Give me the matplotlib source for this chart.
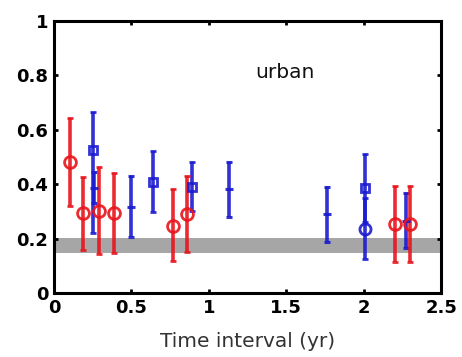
import matplotlib
matplotlib.use("Agg")
import matplotlib.pyplot as plt

# Red circles
red_x = [0.10, 0.19, 0.29, 0.39, 0.77, 0.86, 2.20, 2.30]
red_y = [0.483, 0.293, 0.300, 0.293, 0.247, 0.289, 0.254, 0.254]
red_lo = [0.32, 0.16, 0.142, 0.146, 0.118, 0.15, 0.115, 0.115]
red_hi = [0.642, 0.425, 0.462, 0.44, 0.382, 0.431, 0.393, 0.393]

# Blue squares
bsq_x = [0.25, 0.64, 0.89, 2.01]
bsq_y = [0.526, 0.409, 0.391, 0.385]
bsq_lo = [0.22, 0.299, 0.30, 0.26]
bsq_hi = [0.667, 0.522, 0.481, 0.512]

# Blue plus
bpl_x = [0.26, 0.50, 1.13, 1.76, 2.27]
bpl_y = [0.385, 0.317, 0.383, 0.289, 0.265]
bpl_lo = [0.332, 0.205, 0.28, 0.189, 0.164]
bpl_hi = [0.444, 0.43, 0.483, 0.391, 0.367]

# Blue circle
bci_x = [2.01]
bci_y = [0.237]
bci_lo = [0.127]
bci_hi = [0.35]

band_lo, band_hi = 0.146, 0.202

xticks = [0, 0.5, 1, 1.5, 2, 2.5]
xticklabels = ["0", "0.5", "1", "1.5", "2", "2.5"]
yticks = [0, 0.2, 0.4, 0.6, 0.8, 1]
yticklabels = ["0", "0.2", "0.4", "0.6", "0.8", "1"]

RED = "#e8141c"
BLUE = "#1a1ad0"

fig = plt.figure(figsize=(4.62, 3.57), dpi=100)
ax = fig.add_axes([0.117, 0.179, 0.838, 0.762])

ax.axhspan(band_lo, band_hi, color="#a6a6a6", zorder=1, lw=0)

def eb(x, y, lo, hi, color, marker, ms, mew=2.0):
    yerr = [[yy - l for yy, l in zip(y, lo)], [h - yy for yy, h in zip(y, hi)]]
    ax.errorbar(x, y, yerr=yerr, fmt=marker, color=color, ecolor=color,
                elinewidth=2.6, capsize=2.5, capthick=2.4, ms=ms,
                mfc="none", mec=color, mew=mew, alpha=0.9, zorder=3)

eb(bpl_x, bpl_y, bpl_lo, bpl_hi, BLUE, "_", 6, 2.2)
eb(bsq_x, bsq_y, bsq_lo, bsq_hi, BLUE, "s", 6)
eb(bci_x, bci_y, bci_lo, bci_hi, BLUE, "o", 8)
eb(red_x, red_y, red_lo, red_hi, RED, "o", 8.5)

ax.set_xlim(0, 2.5)
ax.set_ylim(0, 1)
ax.set_xticks(xticks)
ax.set_xticklabels(xticklabels)
ax.set_yticks(yticks)
ax.set_yticklabels(yticklabels)
ax.tick_params(direction="in", length=3, width=2, top=True, right=True,
               labelsize=13, pad=4)
for lab in ax.get_xticklabels() + ax.get_yticklabels():
    lab.set_fontfamily("DejaVu Sans")
    lab.set_fontweight("bold")
for s in ax.spines.values():
    s.set_linewidth(2.2)

ax.text(1.49, 0.81, "urban", ha="center", va="center", fontsize=14.5,
        family="DejaVu Sans", color="#111111")
ax.set_xlabel("Time interval (yr)", fontsize=14.5, family="DejaVu Sans",
              color="#333333", labelpad=11)

fig.savefig("out.png", dpi=100)
